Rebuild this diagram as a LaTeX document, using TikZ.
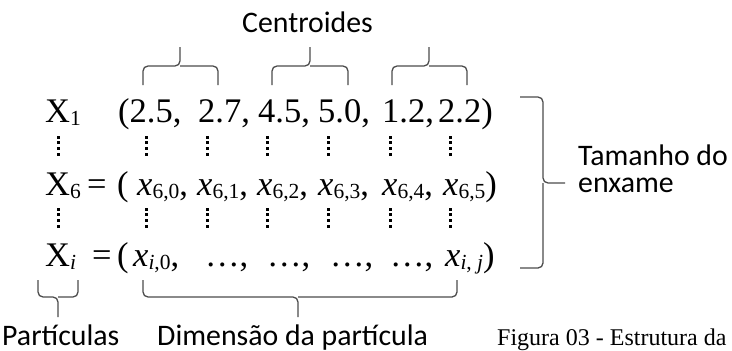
\documentclass[tikz,border=0pt]{standalone}
\usepackage{fontspec}
\setmainfont{Liberation Serif}
\newfontfamily\calib{Carlito}
\newcommand{\lsub}[1]{\raisebox{-3pt}{\fontsize{21.5}{21.5}\selectfont #1}}
\begin{document}
\begin{tikzpicture}[x=1pt,y=-1pt,
  mt/.style={inner sep=0pt,anchor=base west,font=\fontsize{34.5}{34.5}\selectfont},
  st/.style={inner sep=0pt,anchor=base west,font=\calib\fontsize{29.8}{29.8}\selectfont},
  figcap/.style={inner sep=0pt,anchor=base west,font=\fontsize{24}{24}\selectfont},
  brace/.style={draw=black!70,line width=1.3pt,rounded corners=5pt},
  dotsq/.style={fill=black}]
\useasboundingbox (0,0) rectangle (732,351);
% top label
\node[st] (cent) at (242,32) {Centroides};
% top braces
\draw[brace] (143,85) |- (180,66) -- (180,47);
\draw[brace] (218,85) |- (180,66);
\draw[brace] (272,85) |- (310,66) -- (310,47);
\draw[brace] (348,85) |- (310,66);
\draw[brace] (392,85) |- (429,66) -- (429,47);
\draw[brace] (467,85) |- (429,66);
% row 1
\node[mt] (x1) at (45,122) {X\lsub{1}};
\node[mt] (a1) at (118,122) {(2.5,};
\node[mt] (a2) at (198,122) {2.7,};
\node[mt] (a3) at (258,122) {4.5,};
\node[mt] (a4) at (318,122) {5.0,};
\node[mt] (a5) at (382,122) {1.2,};
\node[mt] (a6) at (438,122) {2.2)};
% vertical dots
\foreach \cx in {58,146,207,267,328,390,450}{
  \foreach \dy in {0,5.7,11.4,17.1}{
    \fill[dotsq] (\cx-1.5,137+\dy-1.5) rectangle +(3,3);
    \fill[dotsq] (\cx-1.5,209+\dy-1.5) rectangle +(3,3);
  }
}
% row 2
\node[mt] (x6) at (45,195) {X\lsub{6}};
\node[mt] (eq6) at (87,195) {=};
\node[mt] (p6) at (117,195) {(};
\node[mt] (b0) at (137,195) {\textit{x}\lsub{6,0},};
\node[mt] (b1) at (197,195) {\textit{x}\lsub{6,1},};
\node[mt] (b2) at (257,195) {\textit{x}\lsub{6,2},};
\node[mt] (b3) at (318,195) {\textit{x}\lsub{6,3},};
\node[mt] (b4) at (382,195) {\textit{x}\lsub{6,4},};
\node[mt] (b5) at (443,195) {\textit{x}\lsub{6,5})};
% row 3
\node[mt] (xi) at (45,266) {X\lsub{\textit{i}}};
\node[mt] (eqi) at (92,266) {=};
\node[mt] (pi) at (117,266) {(};
\node[mt] (c0) at (133,266) {\textit{x}\lsub{\textit{i},0},};
\node[mt] (c1) at (205,266) {\dots,};
\node[mt] (c2) at (267,266) {\dots,};
\node[mt] (c3) at (330,266) {\dots,};
\node[mt] (c4) at (390,266) {\dots,};
\node[mt] (c5) at (445,266) {\textit{x}\lsub{\textit{i}, \textit{j}})};
% right bracket
\draw[brace] (520,97) -| (543,183) -- (565,183);
\draw[brace] (520,268) -| (543,183);
\node[st] (tam) at (578,165) {Tamanho do};
\node[st] (enx) at (578,192) {enxame};
% bottom braces
\draw[brace] (38,280) |- (58,297) -- (58,317);
\draw[brace] (78,280) |- (58,297);
\draw[brace] (143,280) |- (298,297) -- (298,317);
\draw[brace] (457,280) |- (298,297);
\node[st] (part) at (2,345) {Partículas};
\node[st] (dim) at (157,345) {Dimensão da partícula};
\node[figcap] (fig) at (497,345) {Figura 03 - Estrutura da};
\end{tikzpicture}
\end{document}
